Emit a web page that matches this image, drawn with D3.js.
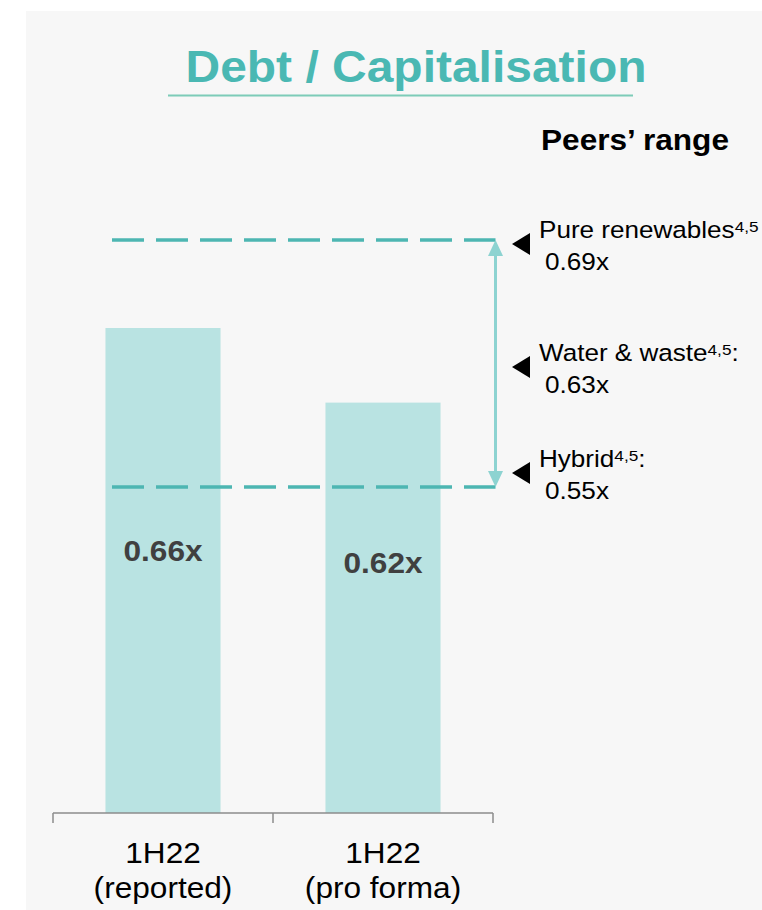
<!DOCTYPE html>
<html>
<head>
<meta charset="utf-8">
<script src="https://cdn.jsdelivr.net/npm/d3@7"></script>
<style>
  html, body { margin: 0; padding: 0; background: #ffffff; }
  svg { display: block; }
  text { font-family: "Liberation Sans", Arial, sans-serif; }
</style>
</head>
<body>
<svg id="chart" width="762" height="910"></svg>
<script>
// ---- data ----
const title = "Debt / Capitalisation";
const categories = ["1H22|(reported)", "1H22|(pro forma)"];
const values = [0.66, 0.62];
const valueLabels = ["0.66x", "0.62x"];
const peersTitle = "Peers\u2019 range";
const peerNames = ["Pure renewables", "Water & waste", "Hybrid"];
const peerSup = ["4,5", "4,5", "4,5"];
const peerSuffix = ["", ":", ":"];
const peerValues = [0.69, 0.63, 0.55];
const peerLabels = ["0.69x", "0.63x", "0.55x"];

// ---- layout ----
const W = 762, H = 910;
const SX = 1.09; // horizontal text stretch of the reference
const teal = "#4db6b2", barFill = "#b9e3e2", arrowCol = "#8dd3d1";

const svg = d3.select("#chart");
svg.append("rect").attr("x", 26).attr("y", 11).attr("width", W - 26).attr("height", H - 11).attr("fill", "#f7f7f7");

function stext(g, x, y, str, opts) {
  const t = g.append("text")
    .attr("transform", `translate(${x},${y}) scale(${opts.sx || SX},1)`)
    .attr("text-anchor", opts.anchor || "start")
    .attr("font-size", opts.size)
    .attr("font-weight", opts.weight || "normal")
    .attr("fill", opts.fill || "#000");
  t.text(str);
  return t;
}

// title
stext(svg, 416, 82, title, {anchor: "middle", size: 44, weight: "bold", fill: "#4ab8b3"});
svg.append("line").attr("x1", 168).attr("x2", 633).attr("y1", 95.5).attr("y2", 95.5)
  .attr("stroke", "#7dccb8").attr("stroke-width", 2);

// scales
const x = d3.scaleBand().domain(categories).range([53, 493])
  .paddingInner(0.477).paddingOuter(0.2385);
const yBar = d3.scaleLinear().domain([0.40, 0.66]).range([813, 328]);
const yPeer = d3.scaleLinear().domain([0.55, 0.69]).range([487, 240]);
const yPeerLabel = d3.scaleLinear().domain([0.55, 0.63, 0.69]).range([473, 367, 244]);
const yValLabel = d3.scaleLinear().domain(d3.extent(values)).range([573, 561]);

// bars
svg.append("g").selectAll("rect").data(values).join("rect")
  .attr("x", (d, i) => x(categories[i]))
  .attr("width", x.bandwidth())
  .attr("y", d => yBar(d))
  .attr("height", d => yBar.range()[0] - yBar(d))
  .attr("fill", barFill);

// dashed peer lines (min & max)
const peerExt = d3.extent(peerValues);
const arrowX = 495.5;
svg.append("g").selectAll("line").data(peerExt).join("line")
  .attr("x1", 112).attr("x2", arrowX)
  .attr("y1", d => yPeer(d)).attr("y2", d => yPeer(d))
  .attr("stroke", teal).attr("stroke-width", 3.5)
  .attr("stroke-dasharray", "32,12");

// double arrow
const yTop = yPeer(peerExt[1]), yBot = yPeer(peerExt[0]);
svg.append("line").attr("x1", arrowX).attr("x2", arrowX)
  .attr("y1", yTop + 14).attr("y2", yBot - 14)
  .attr("stroke", arrowCol).attr("stroke-width", 3);
svg.append("path")
  .attr("d", `M${arrowX},${yTop} L${arrowX - 7.5},${yTop + 16} L${arrowX + 7.5},${yTop + 16} Z`)
  .attr("fill", arrowCol);
svg.append("path")
  .attr("d", `M${arrowX},${yBot} L${arrowX - 7.5},${yBot - 16} L${arrowX + 7.5},${yBot - 16} Z`)
  .attr("fill", arrowCol);

// value labels
valueLabels.forEach((lab, i) => {
  stext(svg, x(categories[i]) + x.bandwidth() / 2, yValLabel(values[i]), lab,
    {anchor: "middle", size: 29, weight: "bold", fill: "#404040"});
});

// x axis
const axisY = yBar.range()[0];
const axisG = svg.append("g").attr("stroke", "#8c8c8c").attr("stroke-width", 1.5);
const [r0, r1] = x.range();
axisG.append("line").attr("x1", r0).attr("x2", r1).attr("y1", axisY).attr("y2", axisY);
const tickXs = [r0, ...categories.slice(1).map(c => x(c) - x.step() * x.paddingInner() / 2), r1];
axisG.selectAll("line.tick").data(tickXs).join("line").attr("class", "tick")
  .attr("x1", d => d).attr("x2", d => d).attr("y1", axisY).attr("y2", axisY + 10);

categories.forEach(c => {
  const [l1, l2] = c.split("|");
  const cx = x(c) + x.bandwidth() / 2;
  stext(svg, cx, 863, l1, {anchor: "middle", size: 29});
  stext(svg, cx, 898, l2, {anchor: "middle", size: 29});
});

// peers' range
stext(svg, 541, 150, peersTitle, {size: 29, weight: "bold"});

peerNames.forEach((name, i) => {
  const cy = yPeerLabel(peerValues[i]);
  svg.append("path")
    .attr("d", `M512,${cy} L530,${cy - 11} L530,${cy + 11} Z`).attr("fill", "#000");
  const t = stext(svg, 539, cy - 6, "", {size: 23.5, sx: 1.11});
  t.append("tspan").text(name);
  t.append("tspan").attr("font-size", 15.5).attr("dy", -6).text(peerSup[i]);
  t.append("tspan").attr("dy", 6).text(peerSuffix[i]);
  stext(svg, 545, cy + 26, peerLabels[i], {size: 24});
});
</script>
</body>
</html>
